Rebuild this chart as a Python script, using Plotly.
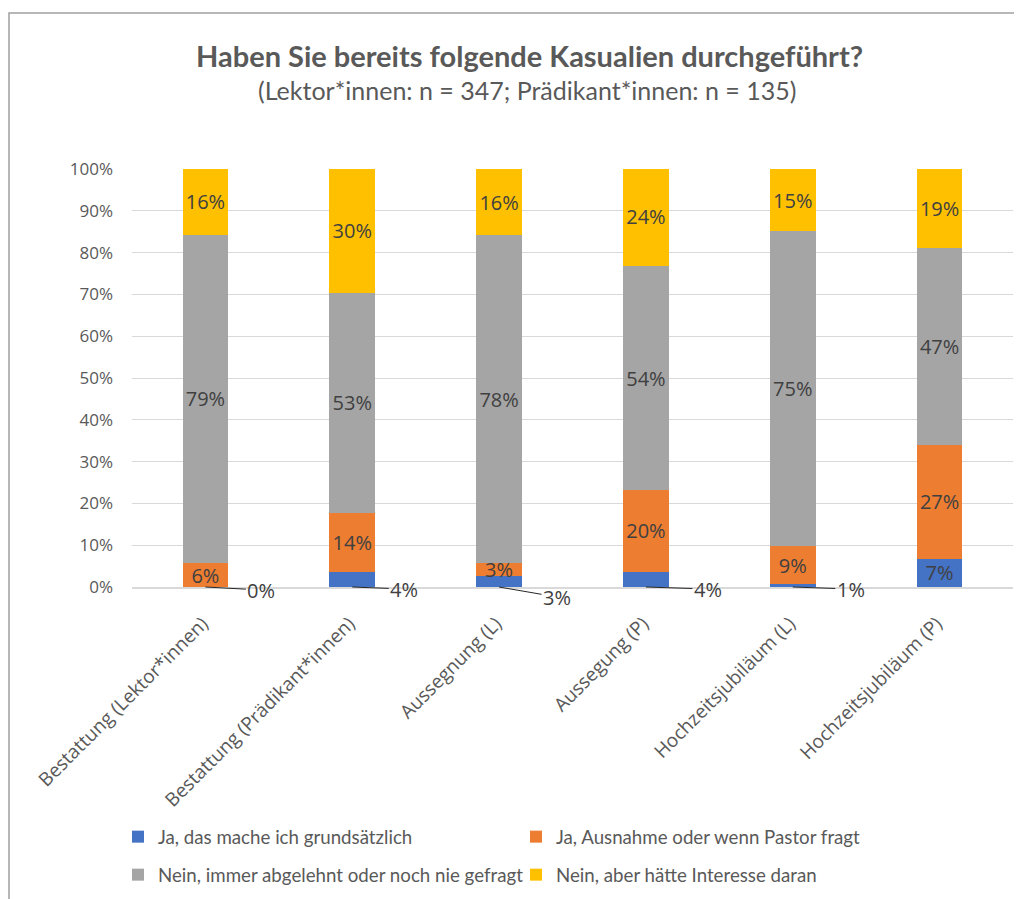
import plotly.graph_objects as go

categories = [
    "Bestattung (Lektor*innen)",
    "Bestattung (Prädikant*innen)",
    "Aussegnung (L)",
    "Aussegung (P)",
    "Hochzeitsjubiläum (L)",
    "Hochzeitsjubiläum (P)",
]
series_names = [
    "Ja, das mache ich grundsätzlich",
    "Ja, Ausnahme oder wenn Pastor fragt",
    "Nein, immer abgelehnt oder noch nie gefragt",
    "Nein, aber hätte Interesse daran",
]
ja_grundsaetzlich = [0.0, 3.7, 2.7, 3.6, 0.7, 6.8]
ja_ausnahme = [5.7, 14.0, 3.0, 19.6, 9.0, 27.1]
nein_abgelehnt = [78.6, 52.7, 78.4, 53.6, 75.4, 47.1]
nein_interesse = [15.7, 29.6, 15.9, 23.5, 14.9, 19.0]
y_ticks = [0, 10, 20, 30, 40, 50, 60, 70, 80, 90, 100]

colors = ["#4472C4", "#ED7D31", "#A5A5A5", "#FFC000"]
all_series = [ja_grundsaetzlich, ja_ausnahme, nein_abgelehnt, nein_interesse]

OFF = 8  # page body margin
W, H = 1022 - OFF, 899 - OFF
# plot area in page pixels: x 132..1013, y 169..587
L, T = 132 - OFF, 169 - OFF
R = W - (1013 - OFF)
B = H - (587 - OFF)
pw = W - L - R
ph = H - T - B


def px_x(px):
    return (px - OFF - L) / pw


def px_y(py):
    return (H - B - (py - OFF)) / ph


LABEL_FONT = "Open Sans"
TEXT_FONT = "Lato"
GREY = "#595959"
DARK = "#404040"

# legend slots (page pixels: text start x, row centre y)
legend_slots = [(158, 837), (556, 837), (158, 875), (556, 875)]
legend_ids = ["legend", "legend2", "legend3", "legend4"]

fig = go.Figure()
for i, (name, vals, col) in enumerate(zip(series_names, all_series, colors)):
    if i == 0:
        texts = [f"{v:.0f}%" if v >= 5 else "" for v in vals]
    else:
        texts = [f"{v:.0f}%" for v in vals]
    fig.add_trace(go.Bar(
        name=name,
        x=categories,
        y=vals,
        marker=dict(color=col, line=dict(width=0)),
        text=texts,
        textposition="inside",
        insidetextanchor="middle",
        constraintext="none",
        textfont=dict(family=LABEL_FONT, size=20, color=DARK),
        legend=legend_ids[i],
        hoverinfo="skip",
    ))

# leader-line labels for small blue values
offsets = [(56, 3), (52, 2), (58, 10), (62, 2), (58, 2), None]
for cat, v, off in zip(categories, ja_grundsaetzlich, offsets):
    if off is None:
        continue
    fig.add_annotation(
        x=cat, y=0, xref="x", yref="y",
        text=f"{v:.0f}%", showarrow=True, arrowhead=0, arrowwidth=1,
        arrowcolor="#262626", ax=off[0], ay=off[1], standoff=0,
        font=dict(family=LABEL_FONT, size=20, color=DARK),
    )

# title and subtitle
fig.add_annotation(
    xref="paper", yref="paper",
    x=px_x(529), y=px_y(55),
    text="<b>Haben Sie bereits folgende Kasualien durchgeführt?</b>",
    showarrow=False, xanchor="center", yanchor="middle",
    font=dict(family=TEXT_FONT, size=29, color=GREY),
)
fig.add_annotation(
    xref="paper", yref="paper",
    x=px_x(527), y=px_y(90),
    text="(Lektor*innen: n = 347; Prädikant*innen: n = 135)",
    showarrow=False, xanchor="center", yanchor="middle",
    font=dict(family=TEXT_FONT, size=25, color=GREY),
)

# outer frame (top and left edges visible)
x_left = px_x(OFF + 1)
y_top = px_y(13)
fig.add_shape(
    type="path", xref="paper", yref="paper",
    path=f"M {x_left} {px_y(920)} L {x_left} {y_top} L {px_x(1040)} {y_top}",
    line=dict(color="#A0A0A0", width=1.5),
)

legend_common = dict(
    orientation="h",
    xanchor="left", yanchor="middle",
    xref="container", yref="container",
    font=dict(family=TEXT_FONT, size=18.7, color=GREY),
    itemwidth=30,
    bgcolor="rgba(0,0,0,0)",
    itemclick=False, itemdoubleclick=False,
)
legend_layout = {}
for lid, (tx, ty) in zip(legend_ids, legend_slots):
    legend_layout[lid] = dict(x=(tx - 40 - OFF) / W, y=1 - (ty - OFF) / H, **legend_common)

fig.update_layout(
    width=W, height=H,
    margin=dict(l=L, r=R, t=T, b=B),
    barmode="stack",
    bargap=0.689,
    paper_bgcolor="white",
    plot_bgcolor="white",
    showlegend=True,
    uniformtext=dict(minsize=20, mode="show"),
    xaxis=dict(
        tickangle=-45,
        tickfont=dict(family=LABEL_FONT, size=19, color=GREY),
        showline=True, linecolor="#D9D9D9", linewidth=2,
        showgrid=False, ticks="",
        ticklabelstandoff=16,
        ticklabelshift=-3,
        automargin=False,
        fixedrange=True,
    ),
    yaxis=dict(
        range=[0, 100],
        tickvals=y_ticks,
        ticktext=[f"{t}%" for t in y_ticks],
        tickfont=dict(family=LABEL_FONT, size=17, color=GREY),
        showgrid=True, gridcolor="#D9D9D9", gridwidth=1,
        zeroline=False, showline=False, ticks="",
        ticklabelstandoff=18,
        automargin=False,
        fixedrange=True,
    ),
    **legend_layout,
)

fig.write_html("out.html")
